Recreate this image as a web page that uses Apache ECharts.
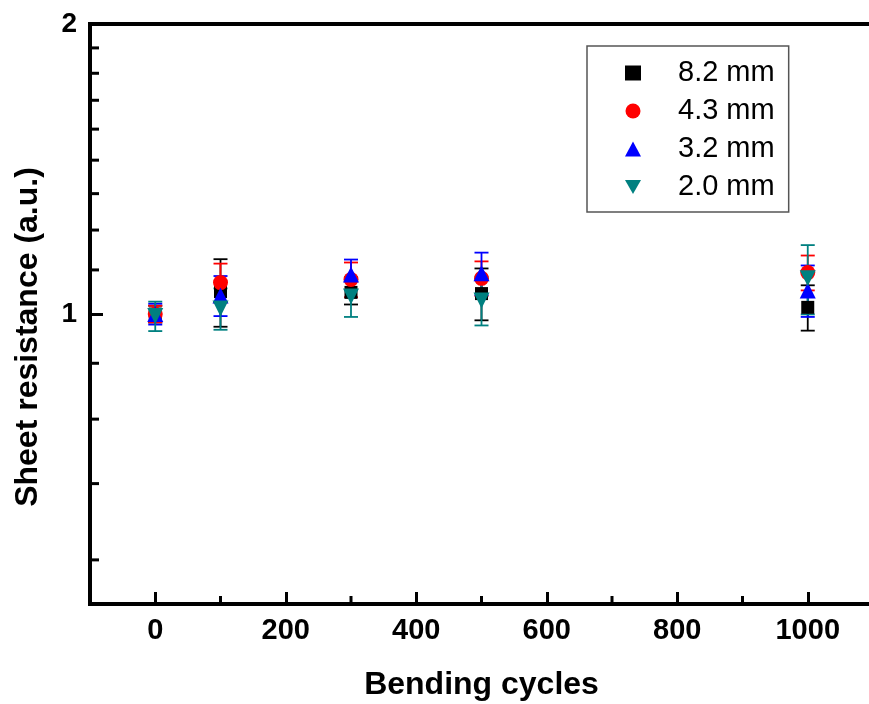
<!DOCTYPE html>
<html>
<head>
<meta charset="utf-8">
<script src="https://cdn.jsdelivr.net/npm/echarts@6/dist/echarts.min.js"></script>
<style>html,body{margin:0;padding:0;background:#fff;}#c{width:869px;height:704px;}</style>
</head>
<body>
<div id="c"></div>
<script>
// ---- data ----
const cycles = [0, 100, 300, 500, 1000];
const seriesNames = ['8.2 mm', '4.3 mm', '3.2 mm', '2.0 mm'];
const mean82 = [1.000, 1.055, 1.053, 1.050, 1.016];
const err82  = [0.020, 0.085, 0.030, 0.065, 0.055];
const mean43 = [1.000, 1.078, 1.086, 1.089, 1.104];
const err43  = [0.020, 0.050, 0.045, 0.045, 0.046];
const mean32 = [1.000, 1.045, 1.099, 1.102, 1.058];
const err32  = [0.025, 0.050, 0.040, 0.056, 0.065];
const mean20 = [0.995, 1.013, 1.043, 1.033, 1.089];
const err20  = [0.035, 0.050, 0.050, 0.060, 0.090];
const xMinorTicks = [100, 300, 500, 700, 900];
const yMinorTicks = [0.5556, 0.6667, 0.7778, 0.8889, 1.1111, 1.2222, 1.3333, 1.4444, 1.5556, 1.6667, 1.7778, 1.8889];

const X_MIN = -100, X_MAX = 1100, Y_MIN = 0.5, Y_MAX = 2;
const colors = ['#000000', '#ff0000', '#0000ff', '#008080'];
const symbols = ['rect', 'circle', 'triangle', 'triangle'];
const legendIcons = ['rect', 'circle', 'triangle', 'path://M0,0L10,0L5,8.66Z'];
const rotates = [0, 0, 0, 180];
const sizes = [13, 15, 16, 16];
const means = [mean82, mean43, mean32, mean20];
const errs = [err82, err43, err32, err20];
const FONT = "'Liberation Sans', Arial, Helvetica, sans-serif";

function errRenderer(color) {
  return function (params, api) {
    const x = api.value(0), lo = api.value(1), hi = api.value(2);
    const pLo = api.coord([x, lo]), pHi = api.coord([x, hi]);
    const hw = 7;
    const style = { stroke: color, lineWidth: 1.8, fill: null };
    return {
      type: 'group',
      children: [
        { type: 'line', shape: { x1: pLo[0], y1: pLo[1], x2: pHi[0], y2: pHi[1] }, style: style },
        { type: 'line', shape: { x1: pLo[0] - hw, y1: pLo[1], x2: pLo[0] + hw, y2: pLo[1] }, style: style },
        { type: 'line', shape: { x1: pHi[0] - hw, y1: pHi[1], x2: pHi[0] + hw, y2: pHi[1] }, style: style }
      ]
    };
  };
}

const series = [];
// minor ticks (drawn through the axis scales)
series.push({
  type: 'custom', name: 'xminor', silent: true, z: 5,
  data: xMinorTicks.map(v => [v, Y_MIN]),
  renderItem: function (params, api) {
    const p = api.coord([api.value(0), api.value(1)]);
    return { type: 'line', shape: { x1: p[0], y1: p[1], x2: p[0], y2: p[1] - 8 }, style: { stroke: '#000', lineWidth: 3 } };
  }
});
series.push({
  type: 'custom', name: 'yminor', silent: true, z: 5,
  data: yMinorTicks.map(v => [X_MIN, v]),
  renderItem: function (params, api) {
    const p = api.coord([api.value(0), api.value(1)]);
    return { type: 'line', shape: { x1: p[0], y1: p[1], x2: p[0] + 9, y2: p[1] }, style: { stroke: '#000', lineWidth: 3 } };
  }
});

for (let s = 0; s < 4; s++) {
  series.push({
    type: 'custom', name: seriesNames[s] + ' err', silent: true, z: 3,
    encode: { x: 0, y: [1, 2] },
    data: cycles.map((c, i) => [c, means[s][i] - errs[s][i], means[s][i] + errs[s][i]]),
    renderItem: errRenderer(colors[s])
  });
  series.push({
    type: 'scatter', name: seriesNames[s], z: 3,
    symbol: symbols[s], symbolRotate: rotates[s], symbolSize: sizes[s],
    itemStyle: { color: colors[s], opacity: 1 },
    data: cycles.map((c, i) => [c, means[s][i]])
  });
}

const chart = echarts.init(document.getElementById('c'), null, { renderer: 'canvas' });
chart.setOption({
  animation: false,
  backgroundColor: '#ffffff',
  grid: { left: 90, right: -4, top: 24, bottom: 100, outerBoundsMode: 'none', containLabel: false,
          show: true, borderColor: '#000', borderWidth: 4, backgroundColor: 'transparent' },
  legend: {
    data: seriesNames.map((n, i) => ({ name: n, icon: legendIcons[i] })),
    orient: 'vertical', left: 587, top: 46,
    padding: [12, 14, 10, 38],
    itemWidth: 16, itemHeight: 15, itemGap: 8,
    borderColor: '#555', borderWidth: 1.5, backgroundColor: '#fff',
    textStyle: { fontFamily: FONT, fontSize: 29, color: '#000', lineHeight: 30, padding: [0, 0, 0, 32] },
    selectedMode: false
  },
  xAxis: {
    type: 'value', min: X_MIN, max: X_MAX, splitNumber: 6,
    name: 'Bending cycles', nameLocation: 'middle', nameGap: 65,
    nameTextStyle: { fontFamily: FONT, fontSize: 32, fontWeight: 'bold', color: '#000' },
    axisLine: { show: true, onZero: false, lineStyle: { color: '#000', width: 4 } },
    axisTick: { show: true, inside: true, length: 12, lineStyle: { color: '#000', width: 3 } },
    axisLabel: { fontFamily: FONT, fontSize: 29, fontWeight: 'bold', color: '#000', margin: 12,
                 showMinLabel: false, showMaxLabel: false, formatter: v => String(v) },
    splitLine: { show: false }
  },
  yAxis: {
    type: 'log', logBase: 2, min: Y_MIN, max: Y_MAX,
    name: 'Sheet resistance (a.u.)', nameLocation: 'middle', nameGap: 46,
    nameTextStyle: { fontFamily: FONT, fontSize: 32, fontWeight: 'bold', color: '#000', padding: [0, 46, 0, 0] },
    axisLine: { show: true, onZero: false, lineStyle: { color: '#000', width: 4 } },
    axisTick: { show: true, inside: true, length: 13, lineStyle: { color: '#000', width: 3 } },
    axisLabel: { fontFamily: FONT, fontSize: 28, fontWeight: 'bold', color: '#000', margin: 13, showMinLabel: false, showMaxLabel: true },
    splitLine: { show: false }
  },
  series: series
});
</script>
</body>
</html>
